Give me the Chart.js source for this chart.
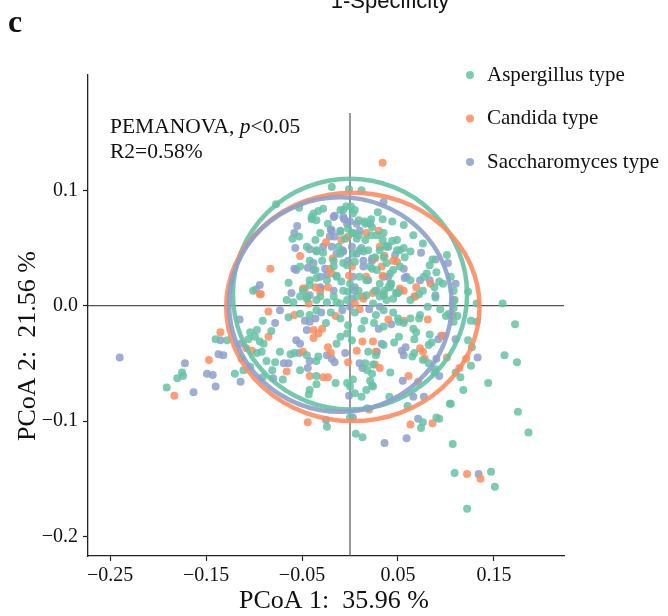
<!DOCTYPE html>
<html>
<head>
<meta charset="utf-8">
<title>PCoA</title>
<script src="https://cdn.jsdelivr.net/npm/chart.js@4.4.0/dist/chart.umd.min.js"></script>
<style>
    html, body { margin: 0; padding: 0; background: #fff; }
    #wrap { width: 668px; height: 616px; }
</style>
</head>
<body>
<div id="wrap"><canvas id="pcoaChart" width="668" height="616"></canvas></div>
<script>

/*---------------------------------------------------
  Data
---------------------------------------------------*/

var groupLabels = ["Aspergillus type", "Candida type", "Saccharomyces type"];
var groupColors = ["102,194,165", "252,141,98", "141,160,203"];

var xTicks = [-0.25, -0.15, -0.05, 0.05, 0.15];
var xTickLabels = ["\u22120.25", "\u22120.15", "\u22120.05", "0.05", "0.15"];
var yTicks = [-0.2, -0.1, 0.0, 0.1];
var yTickLabels = ["\u22120.2", "\u22120.1", "0.0", "0.1"];

// confidence ellipses: centre and radii per group (same order as groupLabels)
var ellipseCx = [0.000, 0.003, -0.010];
var ellipseCy = [0.010, -0.001, 0.001];
var ellipseRx = [0.122, 0.132, 0.116];
var ellipseRy = [0.100, 0.099, 0.093];

var aspergillusPts = [
    [-0.024,-0.105],[0.000,-0.097],[0.006,-0.111],[0.013,-0.114],[0.018,-0.089],[0.060,-0.087],[0.076,-0.101],[0.074,-0.106],
    [0.090,-0.097],[0.093,-0.098],[0.105,-0.085],[0.107,-0.120],[0.175,-0.092],[0.186,-0.110],[0.109,-0.145],[0.147,-0.144],
    [0.151,-0.157],[0.122,-0.176],
    [0.159,0.002],[0.172,-0.016],[0.161,-0.043],[0.174,-0.049],[0.144,-0.067],[0.132,0.002],[0.123,0.012],[0.126,-0.013],
    [0.132,-0.014],[0.123,-0.030],[0.127,-0.036],[0.126,-0.052],[0.110,-0.058],[0.115,-0.062],[0.118,-0.073],[0.104,-0.085],
    [0.108,-0.014],[0.112,-0.009],[0.107,0.002],[0.108,-0.002],[0.100,-0.009],[0.103,-0.007],[0.094,-0.003],[0.082,-0.050],
    [0.088,-0.058],[0.089,-0.055],[0.083,-0.025],[0.085,-0.032],[0.082,-0.034],[0.067,-0.041],[0.065,-0.044],[0.076,-0.047],
    [0.066,-0.020],[0.069,-0.023],[0.067,-0.029],[0.051,-0.027],[0.046,-0.032],[0.035,-0.034],[0.063,-0.011],[0.073,-0.008],
    [0.072,-0.011],[0.081,-0.001],[0.050,-0.011],[0.056,-0.015],[0.051,-0.014],[0.035,-0.018],[0.025,-0.015],[0.042,-0.058],
    [0.023,-0.059],[0.024,-0.070],[0.041,-0.079],
    [-0.101,0.013],[-0.091,-0.013],[-0.082,-0.022],[-0.097,-0.021],[-0.104,-0.023],[-0.099,-0.027],[-0.106,-0.029],[-0.140,-0.029],
    [-0.128,-0.030],[-0.094,-0.031],[-0.090,-0.033],[-0.092,-0.040],[-0.097,-0.041],[-0.087,-0.048],[-0.113,-0.046],[-0.120,-0.059],
    [-0.111,-0.056],[-0.104,-0.053],[-0.091,-0.062],[-0.081,-0.056],[-0.070,-0.064],[-0.073,-0.040],[-0.078,-0.049],[-0.062,-0.042],
    [-0.052,-0.056],[-0.058,-0.041],[-0.045,-0.043],[-0.035,-0.048],[-0.033,-0.044],[-0.035,-0.061],[-0.042,-0.073],[-0.043,-0.077],
    [-0.035,-0.068],[-0.015,-0.067],[-0.003,-0.067],[0.003,-0.064],[0.000,-0.070],[0.005,-0.076],[0.012,-0.079],[0.017,-0.073],
    [0.021,-0.065],[0.023,-0.069],[0.018,-0.056],[0.024,-0.051],[0.016,-0.050],[0.019,-0.040],[0.027,-0.043],[-0.014,-0.033],
    [-0.003,-0.024],[0.002,-0.030],[-0.010,-0.027],[-0.064,-0.010],[-0.052,-0.007],[-0.042,-0.008],[-0.035,-0.004],
    [-0.175,-0.058],[-0.174,-0.061],[-0.180,-0.063],[-0.191,-0.071],
    [-0.020,-0.006],[-0.010,-0.011],[0.005,-0.006],[0.015,-0.013],[0.027,-0.008],[0.035,-0.004],[0.045,-0.006],[0.012,-0.020],
    [-0.002,-0.017],[-0.025,-0.015],
    [-0.019,0.103],[-0.001,0.101],[0.012,0.100],[-0.077,0.088],[-0.053,0.085],[-0.038,0.080],[-0.033,0.082],[-0.028,0.084],
    [-0.040,0.075],[-0.035,0.074],[-0.010,0.083],[-0.004,0.086],[0.001,0.086],[0.005,0.083],[0.015,0.073],[0.022,0.075],
    [0.034,0.075],[0.044,0.073],[-0.060,0.058],[-0.053,0.060],[-0.036,0.057],[-0.035,0.048],[-0.028,0.046],[-0.010,0.064],
    [-0.002,0.067],[0.003,0.063],[0.009,0.061],[0.016,0.057],[0.022,0.061],[0.028,0.061],[0.035,0.063],[0.034,0.057],
    [0.044,0.056],[0.038,0.051],[0.049,0.048],[-0.064,0.020],[-0.049,0.013],[-0.042,0.018],[-0.035,0.024],[-0.017,0.039],
    [-0.010,0.045],[-0.007,0.037],[-0.014,0.026],[-0.009,0.021],[0.010,0.048],[0.019,0.048],[0.026,0.042],[0.021,0.034],
    [0.028,0.031],[0.038,0.037],[0.045,0.031],[0.042,0.019],[0.036,0.013],[0.048,0.011],[0.031,0.008],[-0.066,0.005],
    [-0.059,0.003],[-0.052,0.008],[-0.045,0.006],[-0.035,0.005],[-0.024,0.003],[-0.014,0.003],[0.007,0.008],[-0.002,0.012],
    [-0.003,0.005],
    [0.076,0.054],[0.086,0.040],[0.077,0.025],[0.090,0.029],[0.088,0.016],[0.093,0.021],[0.101,0.044],[0.105,0.025],
    [0.072,0.010],[0.089,0.007],[0.097,0.019],[0.052,0.048],[0.057,0.042],[0.063,0.047],[0.056,0.050],[0.043,0.019],
    [0.050,0.011],[0.040,0.016],[0.109,0.005],[0.108,0.013],
    [0.003,0.080],[0.083,0.035],[0.016,0.071],[0.023,0.068],[0.038,0.052],[0.031,0.048],[-0.007,0.083],[0.002,0.063],
    [0.007,0.058],[-0.005,0.058],[-0.012,0.051],[-0.035,0.047],[-0.042,0.039],[-0.045,0.051],[-0.029,0.039],[-0.036,0.031],
    [-0.042,0.022],[-0.017,0.034],[-0.003,0.035],[0.005,0.038],[0.010,0.025],[0.000,0.019],[-0.007,0.013],[0.009,0.013],
    [0.017,0.009],[0.026,0.013],[0.035,0.009],[0.042,0.016],[0.031,0.019],[0.042,0.028],[0.052,0.034],[0.049,0.057],
    [0.063,0.022],[0.076,0.013],[0.080,0.028],[0.045,0.006],[0.023,0.032],[0.014,0.047],
    [-0.024,0.022],[-0.031,0.008],[-0.017,0.008],[-0.010,0.002],[0.024,0.002],[0.038,0.005],[0.049,0.011],[0.063,0.005],
    [-0.045,0.008],[-0.052,0.034],[-0.031,0.063],[-0.023,0.071],[0.009,0.074],[0.029,0.081],[0.056,0.070],[0.066,0.061],
    [-0.014,0.025],[0.017,0.022],[0.003,0.045],[0.035,0.042],[-0.040,0.077]
];

var candidaPts = [
    [-0.044,-0.101],[0.020,-0.090],[0.063,-0.103],[0.086,-0.102],[0.122,-0.146],[0.136,-0.150],
    [0.121,-0.046],[0.114,-0.054],[0.108,0.005],[0.107,-0.008],[0.097,-0.026],[0.078,-0.046],[0.073,-0.037],[0.076,-0.040],
    [0.081,-0.012],[0.056,-0.013],[0.024,-0.031],[0.027,-0.040],[0.026,-0.051],[0.031,-0.054],[0.061,-0.061],[0.071,-0.066],
    [0.101,-0.045],
    [-0.093,0.010],[-0.085,-0.005],[-0.085,-0.027],[-0.135,-0.023],[-0.108,-0.037],[-0.102,-0.039],[-0.147,-0.047],[-0.066,-0.057],
    [-0.049,-0.040],[-0.042,-0.061],[-0.028,-0.062],[-0.023,-0.062],[-0.002,-0.049],[0.007,-0.039],[0.013,-0.031],[-0.020,-0.041],
    [-0.023,-0.036],[-0.038,-0.021],[-0.033,-0.024],[-0.029,-0.020],[-0.038,-0.028],[-0.058,-0.008],
    [-0.183,-0.078],
    [0.010,-0.003],[0.040,-0.012],[-0.015,-0.009],
    [0.034,0.124],[-0.025,0.055],[-0.009,0.057],[-0.002,0.060],[0.017,0.063],[0.030,0.065],[0.031,0.051],[0.036,0.043],
    [-0.052,0.043],[-0.083,0.032],[-0.094,0.010],[-0.049,0.015],[-0.036,0.016],[-0.021,0.032],[0.002,0.034],[0.017,0.025],
    [0.026,0.041],[0.045,0.039],[0.034,0.026],[0.014,0.008],[0.024,0.011],[-0.043,0.002],[-0.031,0.012],[0.005,0.002],
    [0.069,0.016],[0.084,0.019],[0.067,0.008],[0.049,0.038],[0.052,0.015],[0.035,0.010],
    [-0.018,0.041],[-0.019,0.028],[-0.001,0.026],[0.014,0.006],[0.068,0.008],[-0.047,0.015],
    [-0.023,0.016],[0.033,0.034],[0.056,0.013]
];

var saccharomycesPts = [
    [-0.025,-0.099],[0.003,-0.097],[0.036,-0.119],[0.059,-0.115],[0.071,-0.098],[0.134,-0.146],
    [0.133,-0.045],[0.110,-0.029],[0.095,-0.026],[0.092,-0.029],[0.090,-0.046],[0.093,-0.061],[0.058,-0.036],[0.056,-0.043],
    [0.054,-0.039],[0.033,-0.033],[0.043,-0.016],[0.055,-0.065],[0.066,-0.079],[0.077,-0.079],
    [-0.073,-0.004],[-0.078,-0.015],[-0.115,-0.012],[-0.135,-0.030],[-0.114,-0.033],[-0.137,-0.042],[-0.132,-0.043],[-0.149,-0.059],
    [-0.143,-0.060],[-0.140,-0.070],[-0.114,-0.066],[-0.080,-0.063],[-0.069,-0.050],[-0.064,-0.050],[-0.053,-0.041],[-0.042,-0.048],
    [-0.044,-0.054],[-0.001,-0.078],[0.013,-0.054],[0.010,-0.050],[-0.005,-0.041],[0.028,-0.040],[-0.019,-0.046],[-0.016,-0.049],
    [-0.024,-0.043],[-0.056,-0.030],[-0.052,-0.033],[-0.045,-0.021],[-0.042,-0.014],[-0.047,-0.013],[-0.036,-0.011],
    [-0.240,-0.045],[-0.172,-0.050],[-0.163,-0.075],
    [-0.008,-0.004],[0.020,-0.003],[0.030,-0.020],[-0.030,-0.006],
    [0.035,0.090],[-0.016,0.078],[-0.006,0.075],[0.000,0.073],[0.007,0.071],[-0.055,0.069],[-0.058,0.063],[-0.057,0.050],
    [-0.042,0.049],[-0.020,0.066],[-0.021,0.060],[-0.016,0.060],[-0.058,0.032],[-0.044,0.033],[-0.056,0.031],[-0.094,0.018],
    [-0.098,0.014],[-0.038,0.031],[-0.031,0.025],[-0.024,0.027],[-0.008,0.048],[0.002,0.051],[-0.002,0.039],[0.007,0.045],
    [0.012,0.050],[0.003,0.025],[0.005,0.016],[0.014,0.039],[0.023,0.039],[0.028,0.013],[0.040,0.025],[-0.061,0.011],
    [-0.042,0.009],[-0.031,0.016],[-0.017,0.013],
    [0.074,0.046],[0.102,0.037],[0.110,0.019],[0.047,0.044],[0.056,0.032],[0.057,0.024],
    [-0.017,0.077],[-0.007,0.077],[-0.003,0.071],[0.089,0.040],[0.021,0.071],[0.010,0.065],
    [-0.019,0.065],[-0.028,0.051],[-0.014,0.045],[-0.026,0.032],[-0.007,0.047],[0.014,0.034],[0.023,0.041],[0.019,0.022],
    [0.035,0.025],[0.052,0.013],[0.005,0.013],[-0.031,0.015],[0.002,0.006],[0.059,0.025],[0.073,0.022],[0.083,0.022],
    [0.089,0.009],
    [-0.010,0.065],[-0.019,0.051],[0.040,0.051],[-0.038,0.037],[0.000,-0.001],[0.031,-0.001]
];

var groupPoints = [aspergillusPts, candidaPts, saccharomycesPts];

/*---------------------------------------------------
  Helpers
---------------------------------------------------*/

var SERIF = "'Liberation Serif', 'Times New Roman', serif";

function rgba(c, a) {
    return "rgba(" + c + "," + a + ")";
}

function toXY(list) {
    return list.map(function (p) { return { x: p[0], y: p[1] }; });
}

/*---------------------------------------------------
  Plugins: zero lines, ellipses, texts & legend
---------------------------------------------------*/

var zeroLines = {
    id: "zeroLines",
    beforeDatasetsDraw: function (chart) {
        var ctx = chart.ctx, xs = chart.scales.x, ys = chart.scales.y;
        var x0 = xs.getPixelForValue(0), y0 = ys.getPixelForValue(0);
        ctx.save();
        ctx.strokeStyle = "#555";
        ctx.lineWidth = 1.2;
        ctx.beginPath();
        ctx.moveTo(xs.left, y0);
        ctx.lineTo(xs.right, y0);
        ctx.moveTo(x0, ys.getPixelForValue(0.167));
        ctx.lineTo(x0, ys.bottom);
        ctx.stroke();
        ctx.restore();
    }
};

var ellipses = {
    id: "ellipses",
    afterDatasetsDraw: function (chart) {
        var ctx = chart.ctx, xs = chart.scales.x, ys = chart.scales.y;
        ctx.save();
        ctx.lineWidth = 4.5;
        for (var i = 0; i < groupLabels.length; i++) {
            var cx = xs.getPixelForValue(ellipseCx[i]);
            var cy = ys.getPixelForValue(ellipseCy[i]);
            var rx = Math.abs(xs.getPixelForValue(ellipseCx[i] + ellipseRx[i]) - cx);
            var ry = Math.abs(ys.getPixelForValue(ellipseCy[i] + ellipseRy[i]) - cy);
            ctx.strokeStyle = rgba(groupColors[i], 0.9);
            ctx.beginPath();
            ctx.ellipse(cx, cy, rx, ry, 0, 0, Math.PI * 2);
            ctx.stroke();
        }
        ctx.restore();
    }
};

var texts = {
    id: "texts",
    afterDraw: function (chart) {
        var ctx = chart.ctx;
        ctx.save();
        ctx.fillStyle = "#111";

        // panel letter and cut-off title above
        ctx.font = "bold 32px " + SERIF;
        ctx.textAlign = "left";
        ctx.textBaseline = "alphabetic";
        ctx.fillText("c", 8, 32);

        ctx.font = "22px 'Liberation Sans', Arial, sans-serif";
        ctx.textAlign = "center";
        ctx.fillText("1-Specificity", 390, 8);

        // axis titles
        ctx.font = "26px " + SERIF;
        ctx.textBaseline = "middle";
        ctx.fillText("PCoA 1:  35.96 %", 334, 601);
        ctx.save();
        ctx.translate(28, 346);
        ctx.rotate(-Math.PI / 2);
        ctx.fillText("PCoA 2:  21.56 %", 0, 0);
        ctx.restore();

        // PERMANOVA note
        var noteFont = "21.5px " + SERIF;
        ctx.font = noteFont;
        ctx.textAlign = "left";
        ctx.textBaseline = "alphabetic";
        var x = 110, part = "PEMANOVA, ";
        ctx.fillText(part, x, 133);
        x += ctx.measureText(part).width;
        ctx.font = "italic " + noteFont;
        ctx.fillText("p", x, 133);
        x += ctx.measureText("p").width;
        ctx.font = noteFont;
        ctx.fillText("<0.05", x, 133);
        ctx.fillText("R2=0.58%", 110, 158);

        // legend
        ctx.font = "21px " + SERIF;
        ctx.textBaseline = "middle";
        chart.data.datasets.forEach(function (ds, i) {
            var ly = 75 + i * 43.5;
            ctx.fillStyle = ds.backgroundColor;
            ctx.beginPath();
            ctx.arc(470, ly, 4, 0, Math.PI * 2);
            ctx.fill();
            ctx.fillStyle = "#111";
            ctx.fillText(ds.label, 487, ly);
        });
        ctx.restore();
    }
};

/*---------------------------------------------------
  Chart
---------------------------------------------------*/

var datasets = groupLabels.map(function (label, i) {
    return {
        label: label,
        data: toXY(groupPoints[i]),
        backgroundColor: rgba(groupColors[i], 0.85),
        borderWidth: 0,
        pointRadius: 4,
        pointHoverRadius: 4
    };
});

var tickFont = { family: SERIF, size: 20 };

var pcoaChart = new Chart(document.getElementById("pcoaChart"), {
    type: "scatter",
    data: { datasets: datasets },
    options: {
        responsive: false,
        animation: false,
        layout: { padding: { top: 75, right: 104, left: 0, bottom: 0 } },
        plugins: {
            legend: { display: false },
            tooltip: { enabled: false }
        },
        scales: {
            x: {
                type: "linear",
                min: -0.273,
                max: 0.223,
                afterBuildTicks: function (s) {
                    s.ticks = xTicks.map(function (v) { return { value: v }; });
                },
                afterFit: function (s) { s.height = 60; },
                ticks: {
                    font: tickFont,
                    color: "#111",
                    padding: 3,
                    maxRotation: 0,
                    autoSkip: false,
                    callback: function (v, i) { return xTickLabels[i]; }
                },
                grid: { drawOnChartArea: false, tickLength: 5, color: "#222", tickWidth: 1.2 },
                border: { display: true, color: "#222", width: 1.3 }
            },
            y: {
                type: "linear",
                min: -0.217,
                max: 0.2,
                afterBuildTicks: function (s) {
                    s.ticks = yTicks.map(function (v) { return { value: v }; });
                },
                afterFit: function (s) { s.width = 88; },
                ticks: {
                    font: tickFont,
                    color: "#111",
                    padding: 5,
                    autoSkip: false,
                    callback: function (v, i) { return yTickLabels[i]; }
                },
                grid: { drawOnChartArea: false, tickLength: 5, color: "#222", tickWidth: 1.2 },
                border: { display: true, color: "#222", width: 1.3 }
            }
        }
    },
    plugins: [zeroLines, ellipses, texts]
});

</script>
</body>
</html>
